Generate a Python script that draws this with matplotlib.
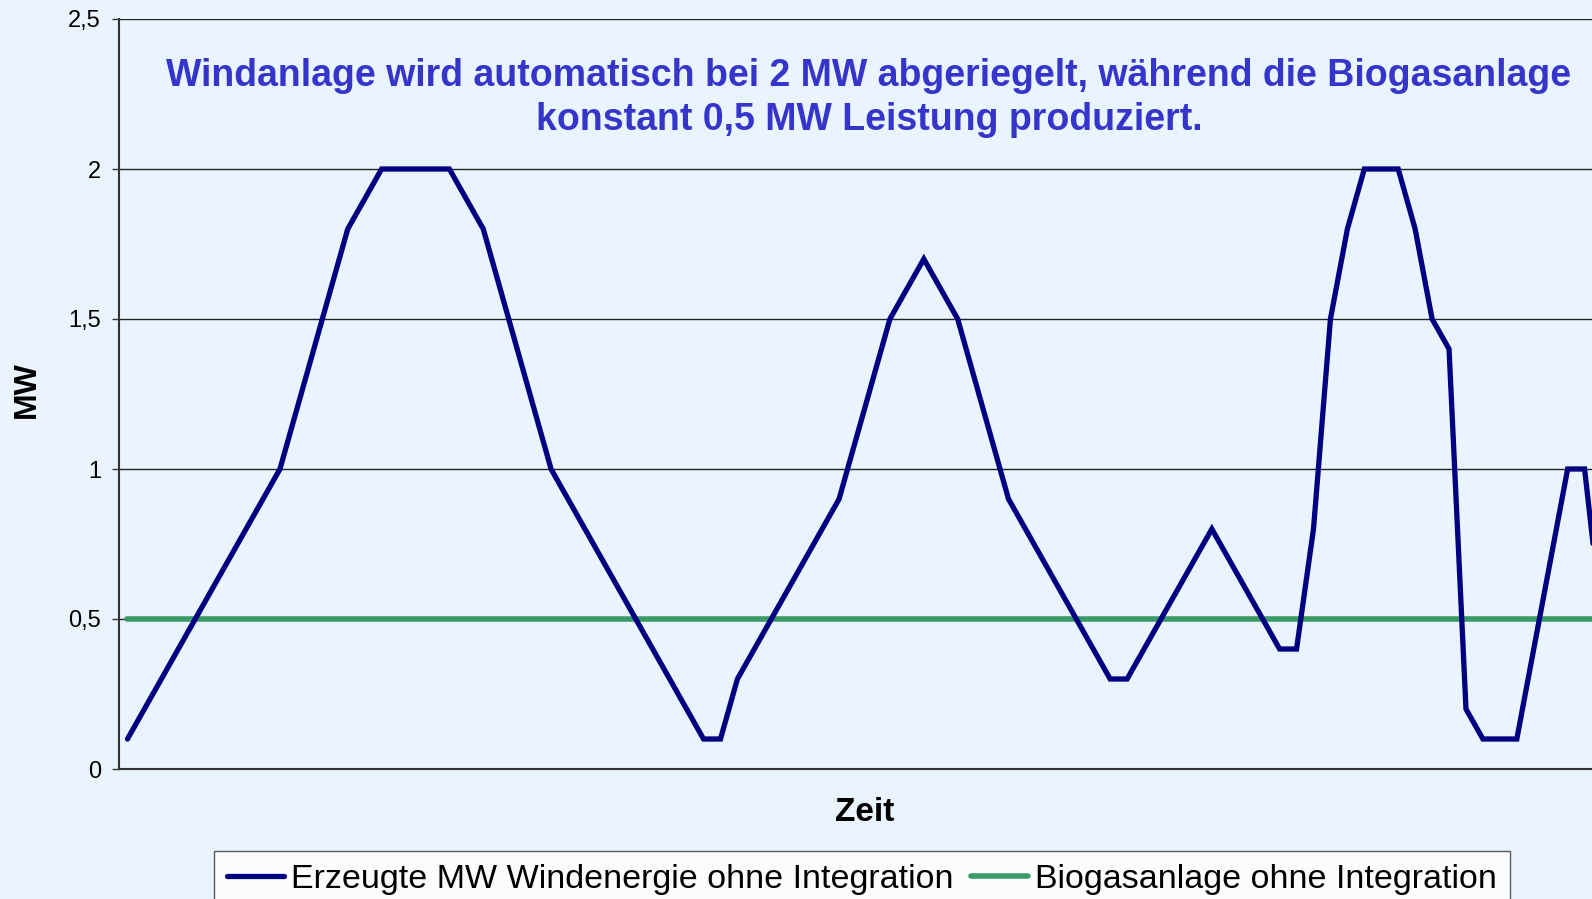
import numpy as np
import matplotlib.pyplot as plt

# Windanlage: erzeugte Leistung je Zeitschritt (MW)
wind_mw = [0.1, 0.2, 0.3, 0.4, 0.5, 0.6, 0.7, 0.8, 0.9, 1.0,
           1.2, 1.4, 1.6, 1.8, 1.9, 2.0, 2.0, 2.0, 2.0, 2.0,
           1.9, 1.8, 1.6, 1.4, 1.2, 1.0, 0.9, 0.8, 0.7, 0.6,
           0.5, 0.4, 0.3, 0.2, 0.1, 0.1, 0.3, 0.4, 0.5, 0.6,
           0.7, 0.8, 0.9, 1.1, 1.3, 1.5, 1.6, 1.7, 1.6, 1.5,
           1.3, 1.1, 0.9, 0.8, 0.7, 0.6, 0.5, 0.4, 0.3, 0.3,
           0.4, 0.5, 0.6, 0.7, 0.8, 0.7, 0.6, 0.5, 0.4, 0.4,
           0.8, 1.5, 1.8, 2.0, 2.0, 2.0, 1.8, 1.5, 1.4, 0.2,
           0.1, 0.1, 0.1, 0.4, 0.7, 1.0, 1.0, 0.5]
biogas_mw = [0.5] * len(wind_mw)

y_ticks = [0, 0.5, 1, 1.5, 2, 2.5]
y_labels = ["0", "0,5", "1", "1,5", "2", "2,5"]

title = ("Windanlage wird automatisch bei 2 MW abgeriegelt, während die Biogasanlage\n"
         "konstant 0,5 MW Leistung produziert.")
label_wind = "Erzeugte MW Windenergie ohne Integration"
label_bio = "Biogasanlage ohne Integration"

plt.rcParams['font.family'] = ['Liberation Sans', 'DejaVu Sans']

bg = "#EAF4FE"
W, H = 1592, 899
fig = plt.figure(figsize=(W / 100, H / 100), dpi=100, facecolor=bg)

# axes run past the right edge like in the original screenshot
left, right, top, bottom = 119, 1610, 19, 769
ax = fig.add_axes([left / W, (H - bottom) / H, (right - left) / W, (bottom - top) / H])
ax.set_facecolor(bg)

x = np.arange(len(wind_mw))
ax.plot(x, biogas_mw, color="#3A9B69", lw=4, solid_capstyle="round", label=label_bio, zorder=3)
ax.plot(x, wind_mw, color="#000080", lw=3.8, solid_capstyle="round", solid_joinstyle="miter",
        label=label_wind, zorder=4)

ax.set_xlim(-0.5, len(wind_mw) - 0.5)
ax.set_ylim(0, 2.5)
ax.set_yticks(y_ticks)
ax.set_yticklabels(y_labels, fontsize=17)
ax.set_xticks([])
ax.tick_params(axis="y", direction="out", length=5, width=1, color="#333333", pad=8)
ax.yaxis.grid(True, color="#222222", lw=1)
ax.set_axisbelow(True)

for s in ["top", "right"]:
    ax.spines[s].set_visible(False)
ax.spines["left"].set_color("#333333")
ax.spines["left"].set_linewidth(1.5)
ax.spines["bottom"].set_color("#333333")
ax.spines["bottom"].set_linewidth(1.5)

ax.set_xlabel("Zeit", fontsize=24, fontweight="bold", labelpad=20)
fig.text(27 / W, 1 - 390 / H, "MW", rotation=90, fontsize=23, fontweight="bold",
         ha="center", va="center")

fig.text(869 / W, 1 - 98 / H, title, ha="center", va="center", fontsize=27,
         fontweight="bold", color="#3535CC", linespacing=1.3)

h, l = ax.get_legend_handles_labels()
leg = fig.legend(h[::-1], l[::-1], loc="upper left", bbox_to_anchor=(214 / W, 1 - 851 / H),
                 ncol=2, fontsize=24.5, frameon=True, fancybox=False, edgecolor="#333333",
                 facecolor="white", handlelength=1.67, columnspacing=0.53, handletextpad=0.2,
                 borderpad=0.38, borderaxespad=0)
leg.get_frame().set_linewidth(1)

fig.savefig("out.png", dpi=100, facecolor=bg)
